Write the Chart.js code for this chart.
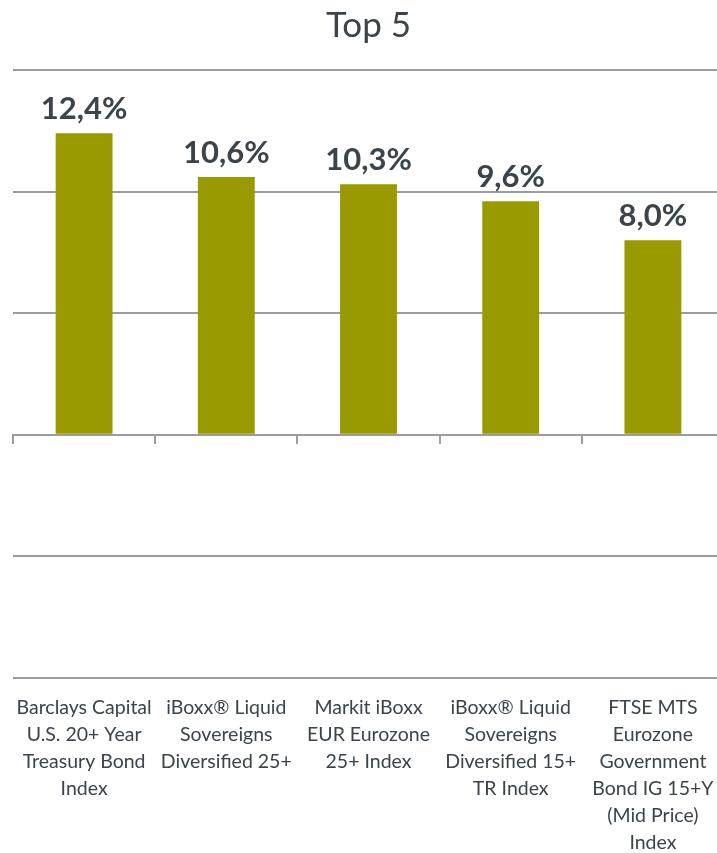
<!DOCTYPE html>
<html><head><meta charset="utf-8">
<script src="https://cdn.jsdelivr.net/npm/chart.js@4/dist/chart.umd.min.js"></script>
<style>html,body{margin:0;padding:0;overflow:hidden;background:#fff}canvas{display:block}</style>
</head><body>
<canvas id="c" width="730" height="853"></canvas>
<script>
const categories = [
  ["Barclays Capital","U.S. 20+ Year","Treasury Bond","Index"],
  ["iBoxx® Liquid","Sovereigns","Diversified 25+"],
  ["Markit iBoxx","EUR Eurozone","25+ Index"],
  ["iBoxx® Liquid","Sovereigns","Diversified 15+","TR Index"],
  ["FTSE MTS","Eurozone","Government","Bond IG 15+Y","(Mid Price)","Index"]
];
const values = [12.4, 10.6, 10.3, 9.6, 8.0];
const titleText = "Top 5";
const yMin = -10, yMax = 15, yStep = 5;

const TEXT = "#3b434b", GRID = "#9a9d9f", BAR = "#999900";

const valueLabels = {
  id: "valueLabels",
  afterDatasetsDraw(chart) {
    const ctx = chart.ctx;
    const meta = chart.getDatasetMeta(0);
    ctx.save();
    ctx.font = "bold 31px Lato";
    ctx.fillStyle = TEXT;
    ctx.textAlign = "center";
    ctx.textBaseline = "alphabetic";
    meta.data.forEach((bar, i) => {
      const txt = values[i].toFixed(1).replace(".", ",") + "%";
      ctx.fillText(txt, bar.x, bar.y - 14);
    });
    ctx.restore();
  }
};

new Chart(document.getElementById("c"), {
  type: "bar",
  data: {
    labels: categories,
    datasets: [{ data: values, backgroundColor: BAR, barPercentage: 0.4, categoryPercentage: 1.0 }]
  },
  plugins: [valueLabels],
  options: {
    responsive: false,
    animation: false,
    layout: { padding: { left: 13, right: 6, top: 0, bottom: 0 } },
    plugins: {
      legend: { display: false },
      tooltip: { enabled: false },
      title: {
        display: true, text: titleText, color: TEXT,
        font: { family: "Lato", size: 35, weight: "normal", lineHeight: 1.2 },
        padding: { top: 5, bottom: 23 }
      }
    },
    scales: {
      y: {
        min: yMin, max: yMax,
        ticks: { display: false, stepSize: yStep },
        grid: { color: GRID, lineWidth: 2, drawTicks: false },
        border: { display: false }
      },
      x: {
        position: "bottom",
        grid: { display: false },
        border: { display: false },
        ticks: {
          color: TEXT, font: { family: "Lato", size: 19.5, lineHeight: 1.385 },
          padding: 8, maxRotation: 0, autoSkip: false
        },
        afterFit(scale) { scale.height = 175; }
      },
      x0: {
        type: "category",
        position: { y: 0 },
        grid: { display: true, drawOnChartArea: false, drawTicks: true, tickLength: 8, color: GRID, lineWidth: 2, offset: true },
        border: { display: true, color: GRID, width: 2 },
        ticks: { display: false }
      }
    }
  }
});
</script>
</body></html>
